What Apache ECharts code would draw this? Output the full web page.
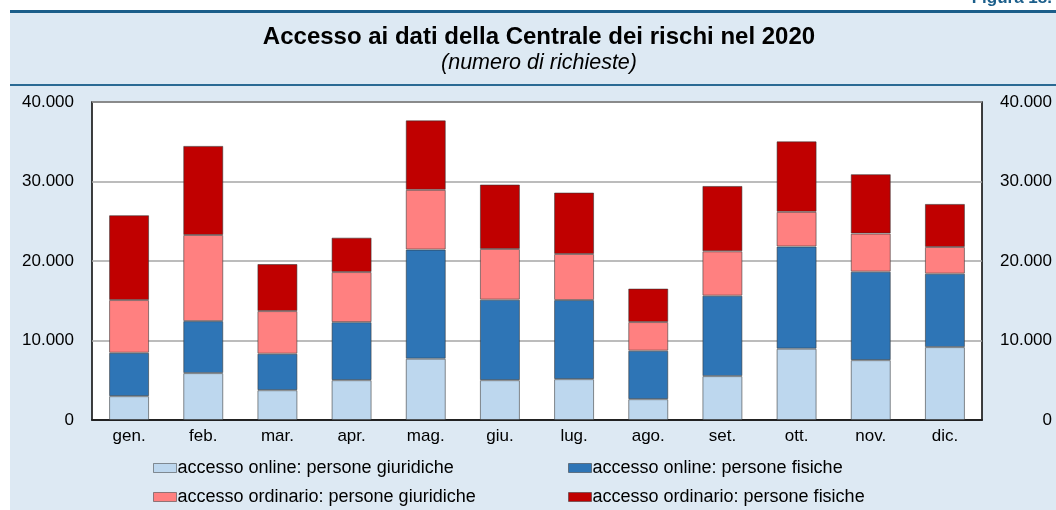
<!DOCTYPE html>
<html lang="it">
<head>
  <meta charset="UTF-8">
  <title>Accesso ai dati della Centrale dei rischi nel 2020</title>
  <style>
    html, body { margin: 0; padding: 0; background: #ffffff; }
    #chart { width: 1056px; height: 510px; }
  </style>
  <script src="https://cdn.jsdelivr.net/npm/echarts@6/dist/echarts.min.js"></script>
</head>
<body>
  <div id="chart"></div>
  <script>
    // dati (numero di richieste)
    var mesi = ['gen.', 'feb.', 'mar.', 'apr.', 'mag.', 'giu.', 'lug.', 'ago.', 'set.', 'ott.', 'nov.', 'dic.'];
    var onlineGiuridiche = [3000, 5900, 3750, 5010, 7710, 5010, 5140, 2620, 5520, 8970, 7530, 9170];
    var onlineFisiche = [5460, 6540, 4590, 7300, 13730, 10130, 9950, 6100, 10120, 12850, 11130, 9240];
    var ordinarioGiuridiche = [6630, 10830, 5360, 6300, 7510, 6370, 5790, 3600, 5580, 4360, 4790, 3350];
    var ordinarioFisiche = [10670, 11210, 5920, 4330, 8740, 8110, 7730, 4210, 8220, 8870, 7470, 5420];
    var nomiSerie = [
      'accesso online: persone giuridiche',
      'accesso online: persone fisiche',
      'accesso ordinario: persone giuridiche',
      'accesso ordinario: persone fisiche'
    ];
    var colori = ['#bdd7ee', '#2e75b6', '#ff8080', '#c00000'];

    var font = 'Liberation Sans, Arial, Helvetica, sans-serif';

    // 40000 -> "40.000"
    function formatta(v) {
      return String(v).replace(/\B(?=(\d{3})+(?!\d))/g, '.');
    }

    function serie(i, dati) {
      return {
        name: nomiSerie[i],
        type: 'bar',
        stack: 'tot',
        barWidth: 40,
        data: dati,
        itemStyle: {
          color: colori[i],
          borderColor: 'rgba(50,50,50,0.55)',
          borderWidth: 1
        },
        emphasis: { disabled: true }
      };
    }

    function legenda(x, voci) {
      return {
        orient: 'vertical', left: x, top: 459, padding: 0, itemGap: 11,
        itemWidth: 23, itemHeight: 9, icon: 'rect',
        data: voci,
        textStyle: { fontSize: 18, color: '#000', fontFamily: font, padding: [0, 0, 0, -4], lineHeight: 18 },
        itemStyle: { borderColor: 'rgba(50,50,50,0.5)', borderWidth: 1 }
      };
    }

    var myChart = echarts.init(document.getElementById('chart'));
    var option = {
      backgroundColor: '#ffffff',
      animation: false,
      textStyle: { fontFamily: font },
      graphic: [
        // pannello azzurro
        { type: 'rect', z: -10, shape: { x: 10, y: 11, width: 1046, height: 499 }, style: { fill: '#dde9f3' } },
        { type: 'rect', z: 1, shape: { x: 10, y: 10, width: 1046, height: 3 }, style: { fill: '#1b5e8a' } },
        { type: 'rect', z: 1, shape: { x: 10, y: 84, width: 1046, height: 2 }, style: { fill: '#2a6a93' } },
        {
          type: 'text', z: 1, right: 4, top: -10,
          style: { text: 'Figura 18.', font: 'bold 17px ' + font, fill: '#1b5e8a' }
        },
        {
          type: 'text', z: 1, x: 539, y: 37,
          style: {
            text: 'Accesso ai dati della Centrale dei rischi nel 2020',
            font: 'bold 24px ' + font, fill: '#000000',
            textAlign: 'center', textVerticalAlign: 'middle'
          }
        },
        {
          type: 'text', z: 1, x: 539, y: 63,
          style: {
            text: '(numero di richieste)',
            font: 'italic 21.5px ' + font, fill: '#000000',
            textAlign: 'center', textVerticalAlign: 'middle'
          }
        }
      ],
      legend: [
        legenda(153, [nomiSerie[0], nomiSerie[2]]),
        legenda(568, [nomiSerie[1], nomiSerie[3]])
      ],
      grid: {
        left: 92, right: 74, top: 102, bottom: 90,
        show: true, backgroundColor: '#ffffff',
        borderColor: '#000000', borderWidth: 1.5
      },
      xAxis: {
        type: 'category',
        data: mesi,
        axisLine: { show: true, lineStyle: { color: '#000', width: 1.5 } },
        axisTick: { show: false },
        axisLabel: { fontSize: 17, color: '#000', margin: 8, fontFamily: font }
      },
      yAxis: [
        {
          type: 'value', min: 0, max: 40000, interval: 10000,
          axisLine: { show: false }, axisTick: { show: false },
          splitLine: { lineStyle: { color: '#a6a6a6', width: 1.5 } },
          axisLabel: { fontSize: 17, color: '#000', margin: 18, formatter: formatta, fontFamily: font }
        },
        {
          type: 'value', min: 0, max: 40000, interval: 10000, position: 'right',
          axisLine: { show: false }, axisTick: { show: false },
          splitLine: { show: false },
          axisLabel: { fontSize: 17, color: '#000', margin: 70, align: 'right', formatter: formatta, fontFamily: font }
        }
      ],
      series: [
        serie(0, onlineGiuridiche),
        serie(1, onlineFisiche),
        serie(2, ordinarioGiuridiche),
        serie(3, ordinarioFisiche)
      ]
    };
    myChart.setOption(option);
  </script>
</body>
</html>
